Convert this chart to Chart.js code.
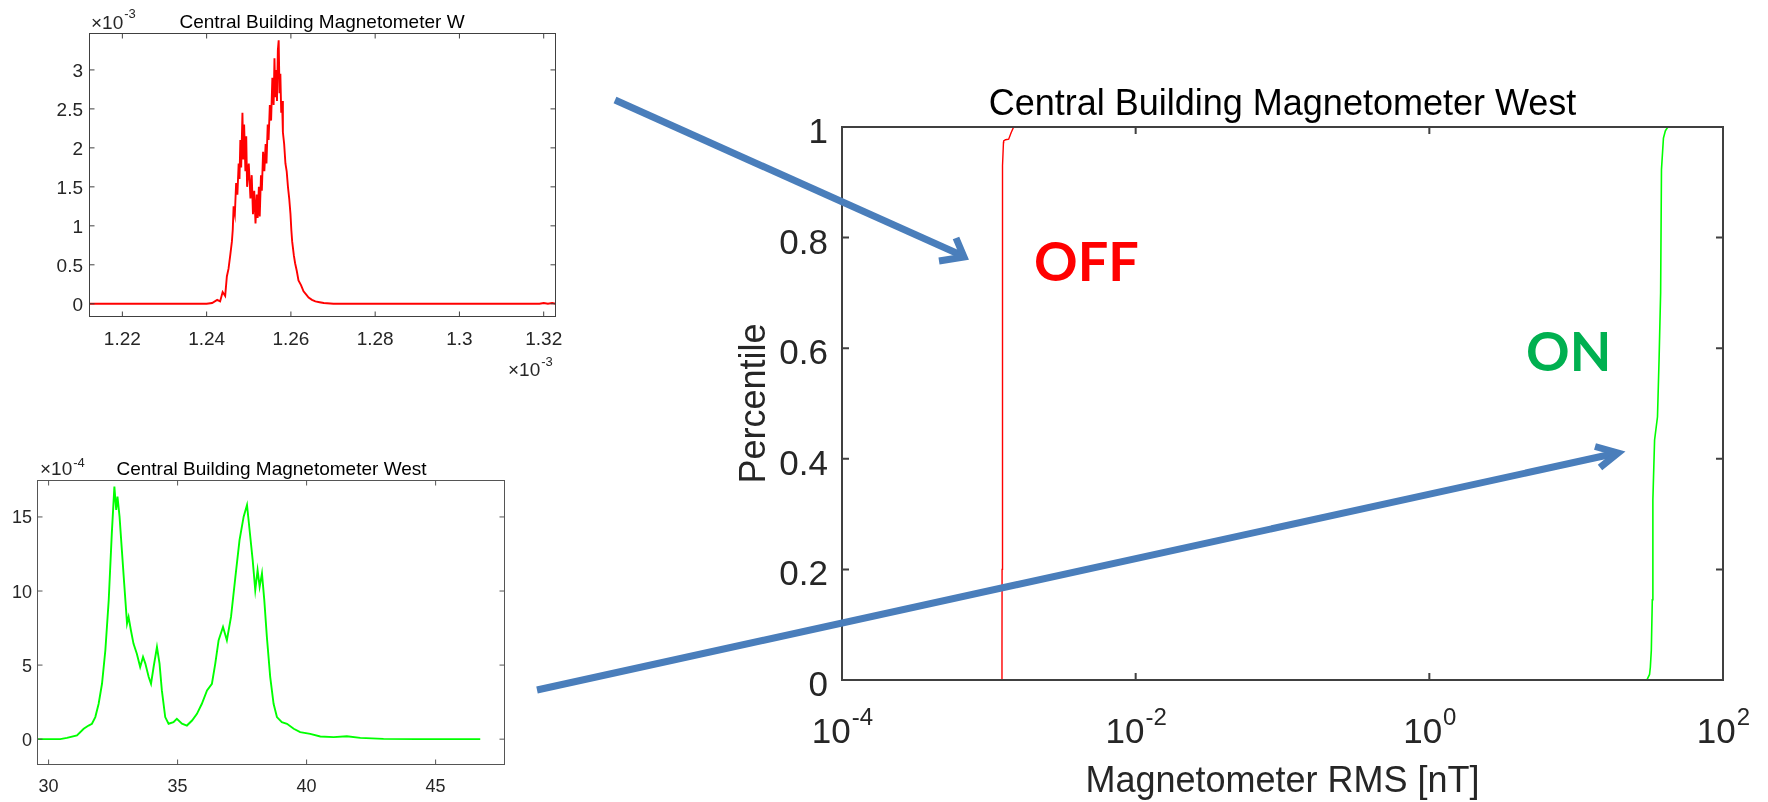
<!DOCTYPE html>
<html>
<head>
<meta charset="utf-8">
<script src="https://cdn.jsdelivr.net/npm/chart.js@4.4.1/dist/chart.umd.min.js"></script>
<style>
html,body{margin:0;padding:0;background:#fff;overflow:hidden}
#wrap{position:relative;width:1768px;height:802px;background:#fff}
canvas{position:absolute;left:0;top:0}
svg{position:absolute;left:0;top:0;pointer-events:none}
</style>
</head>
<body>
<div id="wrap">
<canvas id="c1" width="1768" height="802"></canvas>
<canvas id="c2" width="1768" height="802"></canvas>
<canvas id="c3" width="1768" height="802"></canvas>
<svg width="1768" height="802" viewBox="0 0 1768 802">
  <g stroke="#4a7ebb" stroke-width="7" fill="none" stroke-linejoin="miter">
    <line x1="615" y1="100" x2="963" y2="256"/>
    <polyline points="956,238 964,257 939,261"/>
    <line x1="537" y1="690" x2="1617" y2="453"/>
    <polyline points="1595,446.5 1618,453 1600,467.5"/>
  </g>
</svg>
</div>
<script>
// ---------- Top-left: OFF histogram (x and y in units of 1e-3) ----------
const tlX = [
1.2122, 1.2300, 1.2350, 1.2400, 1.2413, 1.2425, 1.2432, 1.2438, 1.2444, 1.2448,
1.2452, 1.2456, 1.2460, 1.2462, 1.2464, 1.2467, 1.2470, 1.2473, 1.2476, 1.2478,
1.2480, 1.2482, 1.2485, 1.2487, 1.2489, 1.2492, 1.2494, 1.2496, 1.2500, 1.2504,
1.2507, 1.2510, 1.2513, 1.2516, 1.2519, 1.2521, 1.2524, 1.2526, 1.2529, 1.2531,
1.2534, 1.2537, 1.2540, 1.2542, 1.2545, 1.2547, 1.2550, 1.2553, 1.2556, 1.2559,
1.2561, 1.2563, 1.2565, 1.2567, 1.2569, 1.2571, 1.2573, 1.2575, 1.2577, 1.2579,
1.2581, 1.2584, 1.2587, 1.2590, 1.2593, 1.2596, 1.2599, 1.2601, 1.2603, 1.2607,
1.2610, 1.2614, 1.2618, 1.2624, 1.2630, 1.2636, 1.2642, 1.2650, 1.2658, 1.2668,
1.2678, 1.2701, 1.2800, 1.2900, 1.3000, 1.3100, 1.3190, 1.3200, 1.3210, 1.3220,
1.3228];
const tlY = [
0, 0, 0, 0, 0.01, 0.05, 0.03, 0.15, 0.10, 0.35,
0.45, 0.62, 0.80, 0.95, 1.25, 1.15, 1.55, 1.40, 1.80, 1.60,
2.10, 1.75, 2.45, 1.85, 2.30, 1.70, 2.15, 1.50, 1.80, 1.35,
1.65, 1.15, 1.45, 1.03, 1.40, 1.10, 1.50, 1.12, 1.65, 1.45,
1.95, 1.70, 2.05, 1.80, 2.30, 2.10, 2.55, 2.35, 2.90, 2.55,
3.15, 2.65, 3.00, 2.60, 3.25, 3.38, 2.70, 2.95, 2.45, 2.60,
2.20, 2.05, 1.80, 1.70, 1.50, 1.35, 1.15, 0.95, 0.80, 0.62,
0.52, 0.42, 0.30, 0.24, 0.16, 0.12, 0.08, 0.05, 0.03, 0.02,
0.01, 0, 0, 0, 0, 0, 0, 0.01, 0, 0.01,
0];
const tlXTicks = [1.22, 1.24, 1.26, 1.28, 1.30, 1.32];
const tlXLabels = ['1.22', '1.24', '1.26', '1.28', '1.3', '1.32'];
const tlYTicks = [0, 0.5, 1, 1.5, 2, 2.5, 3];
const tlYLabels = ['0', '0.5', '1', '1.5', '2', '2.5', '3'];

// ---------- Bottom-left: ON histogram (y in units of 1e-4) ----------
const blX = [
29.57, 30.45, 30.71, 31.10, 31.36, 31.55, 31.68, 31.81, 31.94, 32.07,
32.20, 32.33, 32.45, 32.55, 32.62, 32.67, 32.75, 32.84, 32.93, 33.04,
33.10, 33.19, 33.29, 33.42, 33.55, 33.66, 33.75, 33.88, 33.97, 34.07,
34.20, 34.30, 34.39, 34.52, 34.65, 34.84, 34.97, 35.17, 35.36, 35.56,
35.75, 35.94, 36.14, 36.33, 36.46, 36.59, 36.76, 36.91, 37.07, 37.24,
37.40, 37.56, 37.69, 37.79, 37.91, 38.01, 38.10, 38.18, 38.27, 38.36,
38.46, 38.59, 38.72, 38.85, 39.04, 39.24, 39.50, 39.75, 40.14, 40.53,
41.05, 41.56, 42.08, 42.98, 44.28, 46.73];
const blY = [
0, 0, 0.09, 0.25, 0.70, 0.92, 1.04, 1.49, 2.39, 3.74,
6.00, 9.38, 13.89, 17.05, 15.47, 16.37, 15.02, 12.76, 10.51, 7.80,
8.25, 7.35, 6.45, 5.77, 4.87, 5.55, 5.10, 4.19, 3.74, 4.87,
6.22, 5.10, 3.29, 1.49, 1.04, 1.15, 1.38, 1.04, 0.92, 1.26,
1.71, 2.39, 3.29, 3.74, 5.10, 6.68, 7.58, 6.68, 8.25, 10.96,
13.44, 15.02, 15.81, 14.12, 12.09, 10.06, 11.41, 10.28, 11.19, 9.38,
6.90, 4.19, 2.39, 1.49, 1.15, 1.04, 0.70, 0.47, 0.36, 0.18,
0.14, 0.20, 0.09, 0.02, 0, 0];
const blXTicks = [30, 35, 40, 45];
const blXLabels = ['30', '35', '40', '45'];
const blYTicks = [0, 5, 10, 15];
const blYLabels = ['0', '5', '10', '15'];

// ---------- Right: CDF (percentile vs RMS) ----------
const offRms = [1.226e-3, 1.229e-3, 1.231e-3, 1.233e-3, 1.236e-3, 1.240e-3, 1.248e-3, 1.258e-3, 1.262e-3, 1.300e-3, 1.365e-3, 1.420e-3, 1.476e-3, 1.550e-3];
const offPct = [0, 0.05, 0.20, 0.40, 0.60, 0.80, 0.93, 0.972, 0.975, 0.977, 0.978, 0.99, 1.0, 1.0];
const onRms = [30.3, 31.6, 32.0, 32.5, 33.0, 33.3, 34.2, 35.8, 36.7, 37.6, 38.1, 39.3, 40.5, 42.1, 44.5, 46.8];
const onPct = [0, 0.01, 0.023, 0.054, 0.145, 0.326, 0.434, 0.476, 0.58, 0.70, 0.923, 0.98, 0.993, 1.0, 1.0, 1.0];
const rXTicks = [1e-4, 1e-2, 1, 1e2];
const rXExps = ['-4', '-2', '0', '2'];
const rYTicks = [0, 0.2, 0.4, 0.6, 0.8, 1];
const rYLabels = ['0', '0.2', '0.4', '0.6', '0.8', '1'];

const FONT = '"Liberation Sans", Arial, Helvetica, sans-serif';
const LABEL = '#262626';

function pts(xs, ys) { return xs.map((x, i) => ({ x: x, y: ys[i] })); }

function drawPow(ctx, x, base, supBase, size, supSize, exp, times, align) {
  ctx.font = size + 'px ' + FONT;
  const main = (times ? '\u00d7' : '') + '10';
  const w1 = ctx.measureText(main).width;
  ctx.font = supSize + 'px ' + FONT;
  const w2 = ctx.measureText(exp).width;
  let start = x;
  if (align === 'center') start = x - (w1 + w2) / 2;
  ctx.textAlign = 'left';
  ctx.font = size + 'px ' + FONT;
  ctx.fillText(main, start, base);
  ctx.font = supSize + 'px ' + FONT;
  ctx.fillText(exp, start + w1 + 1, supBase);
}

function decor(cfg) {
  return {
    id: 'decor',
    afterDatasetsDraw(chart) {
      const ctx = chart.ctx, a = chart.chartArea, sx = chart.scales.x, sy = chart.scales.y;
      ctx.save();
      ctx.strokeStyle = cfg.boxColor;
      ctx.lineWidth = cfg.boxWidth;
      ctx.strokeRect(a.left, a.top, a.right - a.left, a.bottom - a.top);
      ctx.beginPath();
      cfg.xTicks.forEach(v => {
        const p = sx.getPixelForValue(v);
        ctx.moveTo(p, a.bottom); ctx.lineTo(p, a.bottom - cfg.tickLen);
        ctx.moveTo(p, a.top); ctx.lineTo(p, a.top + cfg.tickLen);
      });
      cfg.yTicks.forEach(v => {
        const p = sy.getPixelForValue(v);
        ctx.moveTo(a.left, p); ctx.lineTo(a.left + cfg.tickLen, p);
        ctx.moveTo(a.right, p); ctx.lineTo(a.right - cfg.tickLen, p);
      });
      ctx.stroke();
      ctx.textBaseline = 'alphabetic';
      ctx.fillStyle = LABEL;
      ctx.font = cfg.tickFont + 'px ' + FONT;
      ctx.textAlign = 'right';
      cfg.yTicks.forEach((v, i) => ctx.fillText(cfg.yLabels[i], cfg.yLabelRight, sy.getPixelForValue(v) + cfg.yLabelDy));
      if (cfg.xExps) {
        cfg.xTicks.forEach((v, i) => drawPow(ctx, sx.getPixelForValue(v), cfg.xLabelBase, cfg.xSupBase, cfg.tickFont, cfg.supFont, cfg.xExps[i], false, 'center'));
      } else {
        ctx.textAlign = 'center';
        cfg.xTicks.forEach((v, i) => ctx.fillText(cfg.xLabels[i], sx.getPixelForValue(v), cfg.xLabelBase));
      }
      ctx.fillStyle = '#000';
      ctx.font = cfg.titleFont + 'px ' + FONT;
      ctx.textAlign = 'center';
      ctx.fillText(cfg.title, cfg.titleX, cfg.titleBase);
      ctx.fillStyle = LABEL;
      if (cfg.exps) cfg.exps.forEach(e => drawPow(ctx, e.x, e.base, e.supBase, e.size, e.supSize, e.exp, true, 'left'));
      if (cfg.xTitle) {
        ctx.font = cfg.axisFont + 'px ' + FONT;
        ctx.textAlign = 'center';
        ctx.fillText(cfg.xTitle, cfg.xTitleX, cfg.xTitleBase);
        ctx.save();
        ctx.translate(cfg.yTitleX, cfg.yTitleY);
        ctx.rotate(-Math.PI / 2);
        ctx.fillText(cfg.yTitle, 0, 0);
        ctx.restore();
      }
      if (cfg.notes) cfg.notes.forEach(n => {
        ctx.fillStyle = n.color;
        ctx.font = 'bold ' + n.size + 'px Lato, "Open Sans", sans-serif';
        ctx.textAlign = 'left';
        ctx.fillText(n.text, n.x, n.base);
      });
      ctx.restore();
    }
  };
}

function makeChart(id, datasets, xScale, yScale, pad, plugin) {
  return new Chart(document.getElementById(id), {
    type: 'scatter',
    data: { datasets: datasets },
    options: {
      responsive: false, animation: false, devicePixelRatio: 1, events: [],
      layout: { padding: pad },
      plugins: { legend: { display: false }, tooltip: { enabled: false }, title: { display: false } },
      scales: {
        x: Object.assign({ display: false }, xScale),
        y: Object.assign({ display: false }, yScale)
      }
    },
    plugins: [plugin]
  });
}

function lineDs(data, color, w) {
  return { data: data, showLine: true, borderColor: color, borderWidth: w, pointRadius: 0, tension: 0, fill: false };
}

makeChart('c1',
  [lineDs(pts(tlX, tlY), '#ff0000', 1.9)],
  { type: 'linear', min: 1.2122, max: 1.3228 },
  { type: 'linear', min: -0.163, max: 3.467 },
  { left: 89.5, top: 33.5, right: 1768 - 555.5, bottom: 802 - 316.5 },
  decor({
    boxColor: '#404040', boxWidth: 1, tickLen: 5,
    xTicks: tlXTicks, xLabels: tlXLabels, yTicks: tlYTicks, yLabels: tlYLabels,
    tickFont: 19, yLabelRight: 83, yLabelDy: 7, xLabelBase: 345,
    title: 'Central Building Magnetometer W', titleFont: 19, titleX: 322, titleBase: 27.5,
    exps: [
      { x: 91, base: 28.5, supBase: 18, size: 19, supSize: 13, exp: '-3' },
      { x: 508, base: 376, supBase: 365.5, size: 19, supSize: 13, exp: '-3' }
    ]
  }));

makeChart('c2',
  [lineDs(pts(blX, blY), '#00ff00', 1.9)],
  { type: 'linear', min: 29.57, max: 47.67 },
  { type: 'linear', min: -1.71, max: 17.46 },
  { left: 37.5, top: 480.5, right: 1768 - 504.5, bottom: 802 - 764.5 },
  decor({
    boxColor: '#555555', boxWidth: 1, tickLen: 5,
    xTicks: blXTicks, xLabels: blXLabels, yTicks: blYTicks, yLabels: blYLabels,
    tickFont: 18, yLabelRight: 32, yLabelDy: 6.5, xLabelBase: 791.5,
    title: 'Central Building Magnetometer West', titleFont: 19, titleX: 271.5, titleBase: 475,
    exps: [
      { x: 40, base: 475, supBase: 466.5, size: 19, supSize: 13, exp: '-4' }
    ]
  }));

makeChart('c3',
  [lineDs(pts(offRms, offPct), '#ff0000', 1.4), lineDs(pts(onRms, onPct), '#00ff00', 1.6)],
  { type: 'logarithmic', min: 1e-4, max: 1e2 },
  { type: 'linear', min: 0, max: 1 },
  { left: 842, top: 127, right: 1768 - 1723, bottom: 802 - 680 },
  decor({
    boxColor: '#404040', boxWidth: 2, tickLen: 7,
    xTicks: rXTicks, xExps: rXExps, yTicks: rYTicks, yLabels: rYLabels,
    tickFont: 35, supFont: 24, yLabelRight: 828, yLabelDy: 16, xLabelBase: 743, xSupBase: 725,
    title: 'Central Building Magnetometer West', titleFont: 36, titleX: 1282.5, titleBase: 115,
    axisFont: 36, xTitle: 'Magnetometer RMS [nT]', xTitleX: 1282.5, xTitleBase: 792,
    yTitle: 'Percentile', yTitleX: 764.5, yTitleY: 403.5,
    notes: [
      { text: 'OFF', color: '#ff0000', size: 54, x: 1034, base: 280.5 },
      { text: 'ON', color: '#00b050', size: 54, x: 1526, base: 370.5 }
    ]
  }));
</script>
</body>
</html>
